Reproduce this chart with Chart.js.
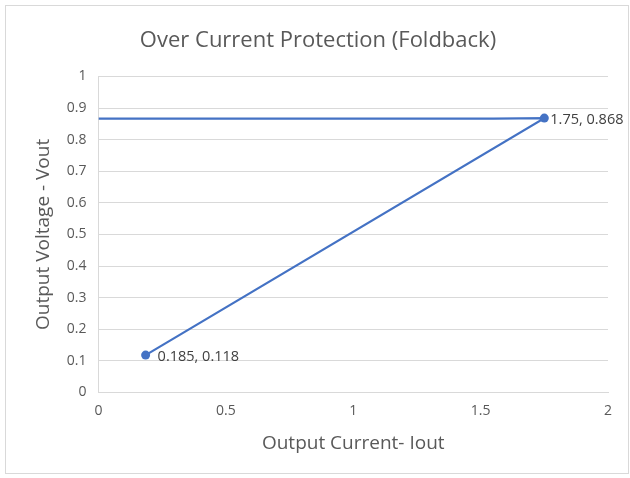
<!DOCTYPE html>
<html>
<head>
<meta charset="utf-8">
<script src="https://cdn.jsdelivr.net/npm/chart.js@4"></script>
<style>
  body { margin: 0; background: #fff; }
  #wrap { position: relative; width: 630px; height: 478px; }
  #frame { position: absolute; left: 5px; top: 5px; width: 624px; height: 469px; border: 1px solid #d9d9d9; box-sizing: border-box; pointer-events: none; }
  canvas { position: absolute; left: 0; top: 0; }
</style>
</head>
<body>
<div id="wrap">
  <canvas id="chart" width="630" height="478"></canvas>
  <div id="frame"></div>
</div>
<script>
const currentValues = [0, 1.55, 1.75, 0.185];
const voltageValues = [0.866, 0.866, 0.868, 0.118];
const markerSizes = [0, 0, 4.5, 4.5];
const labelledPoints = [2, 3];
const labelGaps = { 2: 6, 3: 12 };

const labelFont = "'Open Sans', 'Liberation Sans', sans-serif";
const tickText = v => String(+Number(v).toFixed(2));

const pointLabels = {
  id: "pointLabels",
  afterDatasetsDraw(chart) {
    const c = chart.ctx;
    const meta = chart.getDatasetMeta(0);
    c.save();
    c.font = "14.5px " + labelFont;
    c.fillStyle = "#404040";
    c.textBaseline = "middle";
    labelledPoints.forEach(i => {
      const el = meta.data[i];
      c.fillText(currentValues[i] + ", " + voltageValues[i], el.x + labelGaps[i], el.y + 2);
    });
    c.restore();
  }
};

const ctx = document.getElementById("chart");
const chart = new Chart(ctx, {
  type: "scatter",
  data: {
    datasets: [{
      data: currentValues.map((x, i) => ({ x: x, y: voltageValues[i] })),
      showLine: true,
      borderColor: "#4472C4",
      backgroundColor: "#4472C4",
      borderWidth: 2.25,
      pointRadius: markerSizes,
      pointBorderWidth: 0,
    }],
  },
  options: {
    responsive: false,
    animation: false,
    layout: { padding: { left: 28, right: 22, top: 20, bottom: 19 } },
    scales: {
      x: {
        type: "linear",
        min: 0,
        max: 2,
        ticks: { stepSize: 0.5, color: "#595959", font: { size: 14, family: labelFont }, padding: 10, callback: tickText },
        grid: { display: false, drawTicks: false },
        border: { color: "#d9d9d9" },
        title: { display: true, text: "Output Current- Iout", color: "#595959", font: { size: 19, family: labelFont }, padding: { top: 3 } },
      },
      y: {
        min: 0,
        max: 1,
        ticks: { stepSize: 0.1, color: "#595959", font: { size: 14, family: labelFont }, padding: 12, callback: tickText },
        grid: { color: "#d9d9d9", drawTicks: false },
        border: { color: "#d9d9d9" },
        title: { display: true, text: "Output Voltage - Vout", color: "#595959", font: { size: 19, family: labelFont }, padding: { bottom: 0 } },
      },
    },
    plugins: {
      legend: { display: false },
      tooltip: { enabled: false },
      title: {
        display: true,
        text: "Over Current Protection (Foldback)",
        color: "#595959",
        font: { size: 22, weight: "normal", family: labelFont },
        padding: { top: 8, bottom: 22 },
      },
    },
  },
  plugins: [pointLabels],
});
</script>
</body>
</html>
